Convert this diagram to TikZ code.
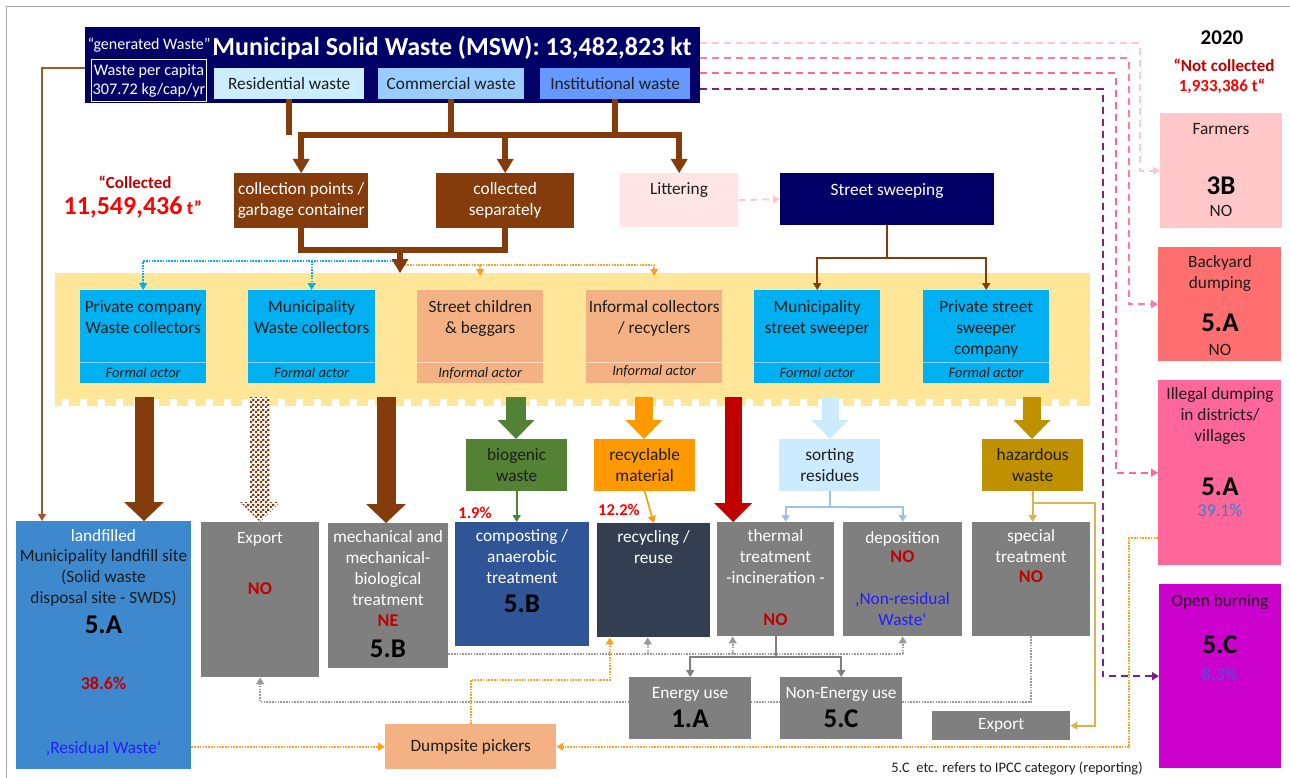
\documentclass[tikz,border=0pt]{standalone}
\usepackage{fontspec}
\setmainfont{Carlito}
\usetikzlibrary{arrows.meta,patterns,positioning}

\definecolor{MSWNavy}{HTML}{000066}
\definecolor{MSWRes}{HTML}{CCECFF}
\definecolor{MSWCom}{HTML}{99CCFF}
\definecolor{MSWInst}{HTML}{6699FF}
\definecolor{MSWBrown}{HTML}{843C0C}
\definecolor{MSWBrownLine}{HTML}{9C5A2A}
\definecolor{MSWLitter}{HTML}{FFE5E5}
\definecolor{MSWBand}{HTML}{FFE699}
\definecolor{MSWFormal}{HTML}{00B0F0}
\definecolor{MSWInformal}{HTML}{F4B183}
\definecolor{MSWBio}{HTML}{548235}
\definecolor{MSWRecm}{HTML}{FF9900}
\definecolor{MSWRedArrow}{HTML}{C00000}
\definecolor{MSWSort}{HTML}{CDEBFF}
\definecolor{MSWSortLine}{HTML}{9DC3E6}
\definecolor{MSWHaz}{HTML}{BF9000}
\definecolor{MSWHazLine}{HTML}{D9B451}
\definecolor{MSWLand}{HTML}{3E88CE}
\definecolor{MSWGray}{HTML}{7F7F7F}
\definecolor{MSWDot}{HTML}{999999}
\definecolor{MSWComp}{HTML}{2F5597}
\definecolor{MSWRecy}{HTML}{333F50}
\definecolor{MSWFarm}{HTML}{FFC7C7}
\definecolor{MSWBack}{HTML}{FF6F6F}
\definecolor{MSWIll}{HTML}{FF6699}
\definecolor{MSWOpen}{HTML}{CC00CC}
\definecolor{MSWPink0}{HTML}{FFC7D0}
\definecolor{MSWPink1}{HTML}{FF7CA0}
\definecolor{MSWPink2}{HTML}{FF6699}
\definecolor{MSWPurple}{HTML}{7F1F7F}
\definecolor{MSWOrange}{HTML}{FFA020}
\definecolor{MSWRed}{HTML}{FF0000}
\definecolor{MSWDark}{HTML}{C00000}
\definecolor{MSWBlue}{HTML}{1F1FFF}
\definecolor{MSWPctBlue}{HTML}{3C7DC8}
\definecolor{MSWPctPurp}{HTML}{6A3FE0}
\definecolor{MSWText}{HTML}{1E1E1E}
\definecolor{MSWFrame}{HTML}{A6A6A6}

\newcommand{\fbody}{\fontsize{17.3}{21}\selectfont}
\newcommand{\fsmall}{\fontsize{14.5}{17}\selectfont}
\newcommand{\fbig}{\fontsize{27}{30}\selectfont\bfseries}
\newcommand{\fstat}{\fontsize{18}{21}\selectfont\bfseries}

% fine checker for the exported share
\pgfdeclarepatternformonly{finechecker}{\pgfqpoint{0pt}{0pt}}{\pgfqpoint{5pt}{5pt}}{\pgfqpoint{5pt}{5pt}}{%
  \pgfpathrectangle{\pgfqpoint{0pt}{0pt}}{\pgfqpoint{2.5pt}{2.5pt}}%
  \pgfpathrectangle{\pgfqpoint{2.5pt}{2.5pt}}{\pgfqpoint{2.5pt}{2.5pt}}%
  \pgfusepath{fill}}

\begin{document}
\begin{tikzpicture}[x=1pt,y=-1pt,font=\fbody,text=MSWText,
  box/.style={rectangle,inner sep=0pt,anchor=north west,align=center},
  lbl/.style={anchor=north,inner sep=0pt,align=center,yshift=-3pt,execute at begin node=\strut},
  txt1/.style={anchor=center,inner sep=0pt},
  ipcc/.style={txt1,font=\fbig,text=black},
  flag/.style={txt1,font=\fstat,text=MSWDark},
  trunk/.style={draw=MSWBrown,line width=6pt},
  wire/.style={draw=#1,line width=1.6pt},
  tipS/.style={-{Triangle[width=8pt,length=7pt]}},
  tipM/.style={-{Triangle[width=17pt,length=14pt,line width'=0pt]}},
  dotline/.style={draw=#1,line width=1.6pt,dash pattern=on 1.6pt off 1.2pt},
  dashline/.style={draw=#1,line width=1.8pt,dash pattern=on 7pt off 5pt},
  fat/.style n args={3}{draw=#1,line width=#2,-{Triangle[width=#3,length=19pt,line width'=0pt]}},
]
\useasboundingbox (0,0) rectangle (1290,778);
\draw[MSWFrame,line width=1pt] (6,778) -- (6,7) -- (1290,7);

% --- generated waste -------------------------------------------------
\node[box,fill=MSWNavy,minimum width=615pt,minimum height=76pt] (msw) at (85,27) {};
\node[txt1,text=white,font=\fontsize{16}{19}\selectfont] (gen) at (149,45) {“generated Waste”};
\node[txt1,text=white,font=\fontsize{26}{30}\selectfont\bfseries] (title) at (452,48) {Municipal Solid Waste (MSW): 13,482,823 kt};
\node[box,draw=white,line width=1pt,minimum width=115pt,minimum height=42pt,text=white,font=\fontsize{16.2}{19}\selectfont] (cap) at (91,59) {Waste per capita\\307.72 kg/cap/yr};
\node[box,fill=MSWRes,minimum width=150pt,minimum height=31pt] (res) at (214,68) {Residential waste};
\node[box,fill=MSWCom,minimum width=146pt,minimum height=31pt] (com) at (378,68) {Commercial waste};
\node[box,fill=MSWInst,minimum width=150pt,minimum height=31pt] (inst) at (540,68) {Institutional waste};

% --- collection ------------------------------------------------------
\node[box,fill=MSWBrown,text=white,minimum width=134pt,minimum height=55pt] (cpts) at (234,173) {collection points /\\garbage container};
\node[box,fill=MSWBrown,text=white,minimum width=138pt,minimum height=55pt] (csep) at (436,173) {collected\\separately};
\node[box,fill=MSWLitter,minimum width=118pt,minimum height=54pt] (litt) at (620,173) {};
\node[lbl] (littT) at (679,177) {Littering};
\node[box,fill=MSWNavy,minimum width=214pt,minimum height=52pt] (sweep) at (780,173) {};
\node[lbl,text=white] (sweepT) at (887,178) {Street sweeping};

\node[txt1,text=MSWDark,font=\fontsize{17}{20}\selectfont\bfseries] (colA) at (135,182) {“Collected};
\node[txt1,text=MSWRed,font=\fontsize{26}{30}\selectfont\bfseries] (colB) at (133,207) {11,549,436\,{\fontsize{19}{22}\selectfont t”}};

\coordinate (busY) at (0,135);
\draw[trunk] (res.south) -- (res.south |- busY);
\draw[trunk] (com.south) -- (com.south |- busY);
\draw[trunk] (inst.south) -- (inst.south |- busY);
\draw[trunk] ([xshift=-3pt]cpts.north |- busY) -- ([xshift=3pt]litt.north |- busY);
\draw[trunk,tipM] (cpts.north |- busY) -- (cpts.north);
\draw[trunk,tipM] (csep.north |- busY) -- (csep.north);
\draw[trunk,tipM] (litt.north |- busY) -- (litt.north);

\draw[dashline=MSWPink0,tipS] (litt.east) -- (sweep.west);

% --- actors ----------------------------------------------------------
\node[box,fill=MSWBand,minimum width=1035pt,minimum height=133pt] (band) at (55,273) {};
\foreach \x in {62,80,...,1080}
  \fill[white] (\x,399) rectangle ++(7,8);

\node[box,fill=MSWFormal,minimum width=126pt,minimum height=93pt] (pcw) at (80,290) {};
\node[box,fill=MSWFormal,minimum width=127pt,minimum height=93pt] (mwc) at (248,290) {};
\node[box,fill=MSWInformal,minimum width=126pt,minimum height=93pt] (scb) at (417,290) {};
\node[box,fill=MSWInformal,minimum width=136pt,minimum height=93pt] (inf) at (586,290) {};
\node[box,fill=MSWFormal,minimum width=126pt,minimum height=93pt] (msws) at (754,290) {};
\node[box,fill=MSWFormal,minimum width=126pt,minimum height=93pt] (pss) at (923,290) {};
\foreach \b in {pcw,mwc,scb,inf,msws,pss}
  \draw[white,opacity=0.5,line width=0.8pt] ([yshift=21pt]\b.south west) -- ([yshift=21pt]\b.south east);

\node[lbl] (pcwT) at (pcw.north |- 0,297) {Private company\\Waste collectors};
\node[lbl] (mwcT) at (mwc.north |- 0,297) {Municipality\\Waste collectors};
\node[lbl] (scbT) at (scb.north |- 0,297) {Street children\\\& beggars};
\node[lbl] (infT) at (inf.north |- 0,297) {Informal collectors\\/ recyclers};
\node[lbl] (mswsT) at (msws.north |- 0,297) {Municipality\\street sweeper};
\node[lbl] (pssT) at (pss.north |- 0,297) {Private street\\sweeper\\company};
\node[txt1,font=\fsmall\itshape] (pcwF) at ([yshift=10.5pt]pcw.south) {Formal actor};
\node[txt1,font=\fsmall\itshape] (mwcF) at ([yshift=10.5pt]mwc.south) {Formal actor};
\node[txt1,font=\fsmall\itshape] (scbF) at ([yshift=10.5pt]scb.south) {Informal actor};
\node[txt1,font=\fsmall\itshape] (infF) at ([yshift=12.5pt]inf.south) {Informal actor};
\node[txt1,font=\fsmall\itshape] (mswsF) at ([yshift=10.5pt]msws.south) {Formal actor};
\node[txt1,font=\fsmall\itshape] (pssF) at ([yshift=10.5pt]pss.south) {Formal actor};

% collected waste handed to the actors
\coordinate (blueS) at (394,261);
\coordinate (oraS) at (396,265);
\draw[dotline=MSWFormal,tipS] (blueS) -| (pcw.north);
\draw[dotline=MSWFormal,tipS] (mwc.north |- blueS) -- (mwc.north);
\draw[dotline=MSWOrange,tipS] (oraS) -| ([yshift=-3pt]inf.north |- band.north);
\draw[dotline=MSWOrange,tipS] (scb.north |- oraS) -- ([yshift=-3pt]scb.north |- band.north);
\coordinate (jn) at (400,250);
\draw[trunk] (cpts.south) -- (cpts.south |- jn) -- (csep.south |- jn) -- (csep.south);
\draw[trunk,tipM] (jn) -- (jn |- band.north);

\coordinate (swY) at (0,258);
\draw[wire=MSWBrown] (sweep.south) -- (sweep.south |- swY);
\draw[wire=MSWBrown,tipS] (sweep.south |- swY) -| (msws.north);
\draw[wire=MSWBrown,tipS] (sweep.south |- swY) -| (pss.north);

% --- waste fractions -------------------------------------------------
\node[box,fill=MSWBio,minimum width=101pt,minimum height=52pt] (bio) at (466,439) {biogenic\\waste};
\node[box,fill=MSWRecm,minimum width=101pt,minimum height=52pt] (recm) at (594,439) {recyclable\\material};
\node[box,fill=MSWSort,minimum width=101pt,minimum height=52pt] (sort) at (779,439) {sorting\\residues};
\node[box,fill=MSWHaz,minimum width=101pt,minimum height=52pt] (haz) at (982,439) {hazardous\\waste};

% --- treatment and disposal ------------------------------------------
\node[box,fill=MSWLand,minimum width=175pt,minimum height=248pt] (land) at (16,521) {};
\node[box,fill=MSWGray,minimum width=118pt,minimum height=155pt] (exp) at (201,522) {};
\node[box,fill=MSWGray,minimum width=120pt,minimum height=145pt] (mech) at (328,523) {};
\node[box,fill=MSWComp,minimum width=134pt,minimum height=124pt] (comp) at (455,522) {};
\node[box,fill=MSWRecy,minimum width=113pt,minimum height=114pt] (recy) at (597,523) {};
\node[box,fill=MSWGray,minimum width=117pt,minimum height=114pt] (therm) at (717,522) {};
\node[box,fill=MSWGray,minimum width=119pt,minimum height=114pt] (depo) at (843,522) {};
\node[box,fill=MSWGray,minimum width=118pt,minimum height=114pt] (spec) at (972,522) {};

\node[lbl,text=white] (landA) at (103.5,524) {landfilled};
\node[lbl] (landB) at (103.5,546) {Municipality landfill site\\(Solid waste\\disposal site - SWDS)};
\node[ipcc] (landC) at (103.5,625) {5.A};
\node[flag] (landD) at (103.5,683) {38.6\%};
\node[txt1,text=MSWBlue] (landE) at (103.5,749) {‚Residual Waste‘};
\node[lbl,text=white] (expA) at (260,526) {Export};
\node[flag] (expB) at (260,589) {NO};
\node[lbl,text=white] (mechA) at (388,527) {mechanical and\\mechanical-\\biological\\treatment};
\node[flag] (mechB) at (388,621) {NE};
\node[ipcc] (mechC) at (388,649) {5.B};
\node[lbl,text=white] (compA) at (522,526) {composting /\\anaerobic\\treatment};
\node[ipcc] (compB) at (522,604) {5.B};
\node[lbl,text=white] (recyA) at (653.5,527) {recycling /\\reuse};
\node[lbl,text=white] (thermA) at (775.5,526) {thermal\\treatment\\-incineration -};
\node[flag] (thermB) at (775.5,620) {NO};
\node[lbl,text=white] (depoA) at (902.5,526) {deposition};
\node[flag] (depoB) at (902.5,557) {NO};
\node[lbl,text=MSWBlue] (depoC) at (902.5,589) {‚Non-residual\\Waste‘};
\node[lbl,text=white] (specA) at (1031,526) {special\\treatment};
\node[flag] (specB) at (1031,577) {NO};
\node[txt1,text=MSWRed,font=\fontsize{16.5}{19}\selectfont\bfseries] (pBio) at (475,513) {1.9\%};
\node[txt1,text=MSWRed,font=\fontsize{16.5}{19}\selectfont\bfseries] (pRec) at (619,510) {12.2\%};

% flows out of the actors
\coordinate (outLand) at (144,397);
\coordinate (outExp) at (260,397);
\coordinate (outMech) at (386,397);
\coordinate (outBio) at (516,397);
\coordinate (outRec) at (644,397);
\coordinate (outTh) at (733,397);
\coordinate (outSort) at (830,397);
\coordinate (outHaz) at (1032,397);
\draw[fat={MSWBrown}{19pt}{40pt}] (outLand) -- (outLand |- land.north);
\path[preaction={fill=white},pattern=finechecker,pattern color=MSWBrown]
  (outExp) ++(-10,0) -- ++(20,0) -- ++(0,105) -- ++(10,0) -- (exp.north)
  -- ++(-20,-20) -- ++(10,0) -- cycle;
\draw[fat={MSWBrown}{19pt}{40pt}] (outMech) -- (outMech |- mech.north);
\draw[fat={MSWBio}{20pt}{37pt}] (outBio) -- (outBio |- bio.north);
\draw[fat={MSWRecm}{18pt}{37pt}] (outRec) -- (outRec |- recm.north);
\draw[fat={MSWRedArrow}{17pt}{38pt}] (outTh) -- (outTh |- therm.north);
\draw[fat={MSWSort}{17pt}{37pt}] (outSort) -- (outSort |- sort.north);
\draw[fat={MSWHaz}{18pt}{37pt}] (outHaz) -- (outHaz |- haz.north);

\draw[wire=MSWBio,tipS] (bio.south) -- (bio.south |- comp.north);
\draw[wire=MSWRecm,tipS] (recm.south) -- (recy.north);
\coordinate (srY) at (0,507);
\draw[wire=MSWSortLine] (sort.south) -- (sort.south |- srY);
\draw[wire=MSWSortLine,tipS] (sort.south |- srY) -| ([xshift=10pt]therm.north);
\draw[wire=MSWSortLine,tipS] (sort.south |- srY) -| (depo.north);

% residues back to export
\coordinate (dg2) at (0,702);
\draw[dotline=MSWDot,tipS] (spec.south) -- (spec.south |- dg2) -- (exp.south |- dg2) -- (exp.south);

\node[box,fill=MSWGray,minimum width=122pt,minimum height=62pt] (enu) at (629,677) {};
\node[box,fill=MSWGray,minimum width=122pt,minimum height=62pt] (neu) at (780,677) {};
\node[box,fill=MSWGray,minimum width=138pt,minimum height=29pt,text=white] (exp2) at (932,711) {Export};
\node[box,fill=MSWInformal,minimum width=171pt,minimum height=45pt] (dump) at (385,724) {Dumpsite pickers};
\node[lbl,text=white] (enuA) at (690,681) {Energy use};
\node[ipcc] (enuB) at (690,719) {1.A};
\node[lbl,text=white] (neuA) at (841,681) {Non-Energy use};
\node[ipcc] (neuB) at (841,719) {5.C};

\coordinate (dg1) at (0,654);
\draw[dotline=MSWDot] (mech.east |- dg1) -- (depo.south |- dg1);
\draw[dotline=MSWDot,tipS] ([xshift=-6pt]recy.south |- dg1) -- ([xshift=-6pt]recy.south);
\draw[dotline=MSWDot,tipS] ([xshift=-43pt]therm.south |- dg1) -- ([xshift=-43pt]therm.south);
\draw[dotline=MSWDot,tipS] (depo.south |- dg1) -- (depo.south);

\coordinate (thY) at (0,657);
\draw[wire=MSWGray] (therm.south) -- (therm.south |- thY);
\draw[wire=MSWGray,tipS] (therm.south |- thY) -| (enu.north);
\draw[wire=MSWGray,tipS] (therm.south |- thY) -| (neu.north);

\coordinate (hzY) at (0,503);
\coordinate (hzR) at (1095,503);
\draw[wire=MSWHazLine,tipS] (haz.south) -- (haz.south |- spec.north);
\draw[wire=MSWHazLine,tipS] (haz.south |- hzY) -- (hzR) |- (exp2.east);

% --- not collected ---------------------------------------------------
\node[txt1,font=\fontsize{21}{24}\selectfont\bfseries,text=black] (yr) at (1222,38) {2020};
\node[txt1,text=MSWDark,font=\fontsize{17}{20}\selectfont\bfseries] (ncA) at (1224,65) {“Not collected};
\node[txt1,text=MSWRed,font=\fontsize{17}{20}\selectfont\bfseries] (ncB) at (1222,86) {1,933,386 t“};

\node[box,fill=MSWFarm,minimum width=122pt,minimum height=115pt] (farm) at (1160,113) {};
\node[box,fill=MSWBack,minimum width=123pt,minimum height=114pt] (back) at (1158,247) {};
\node[box,fill=MSWIll,minimum width=123pt,minimum height=185pt] (ill) at (1158,380) {};
\node[box,fill=MSWOpen,minimum width=122pt,minimum height=184pt] (ob) at (1159,584) {};
\node[lbl] (farmA) at (1221,117) {Farmers};
\node[ipcc] (farmB) at (1221,186) {3B};
\node[txt1] (farmC) at (1221,211) {NO};
\node[lbl] (backA) at (1220,252) {Backyard\\dumping};
\node[ipcc] (backB) at (1220,323) {5.A};
\node[txt1] (backC) at (1220,350) {NO};
\node[lbl] (illA) at (1220,384) {Illegal dumping\\in districts/\\villages};
\node[ipcc] (illB) at (1220,487) {5.A};
\node[txt1,text=MSWPctBlue,font=\fontsize{18}{21}\selectfont] (illC) at (1220,510) {39.1\%};
\node[lbl] (obA) at (1220,589) {Open burning};
\node[ipcc] (obB) at (1220,645) {5.C};
\node[txt1,text=MSWPctPurp,font=\fstat] (obC) at (1220,674) {8.3\%};

\coordinate (dx1) at (1140,0);
\coordinate (dx2) at (1129,0);
\coordinate (dx3) at (1116,0);
\coordinate (dx4) at (1103,0);
\draw[dashline=MSWPink0,tipS] ([yshift=22pt]msw.east) -| (dx1 |- farm.west) -- (farm.west);
\draw[dashline=MSWPink1,tipS] ([yshift=7pt]msw.east) -| (dx2 |- back.west) -- (back.west);
\draw[dashline=MSWPink2,tipS] ([yshift=-8pt]msw.east) -| (dx3 |- ill.west) -- (ill.west);
\draw[dashline=MSWPurple,tipS] ([yshift=-24pt]msw.east) -| (dx4 |- ob.west) -- (ob.west);

\coordinate (lfIn) at (42,521);
\draw[wire=MSWBrownLine,tipS] ([yshift=-3pt]msw.west) -| (lfIn);

% pickers on the dumpsites
\draw[dotline=MSWOrange,tipS] (land.east |- dump.west) -- (dump.west);
\draw[dotline=MSWOrange,tipS] (dump.north) -- ++(0,-44) -| ([xshift=-44pt]recy.south);
\draw[dotline=MSWOrange,tipS] ([yshift=-65pt]ill.west) -| (dx2 |- dump.east) -- (dump.east);

\node[txt1,font=\fsmall] (note) at (1017,768) {5.C\ \ etc. refers to IPCC category (reporting)};
\end{tikzpicture}
\end{document}
